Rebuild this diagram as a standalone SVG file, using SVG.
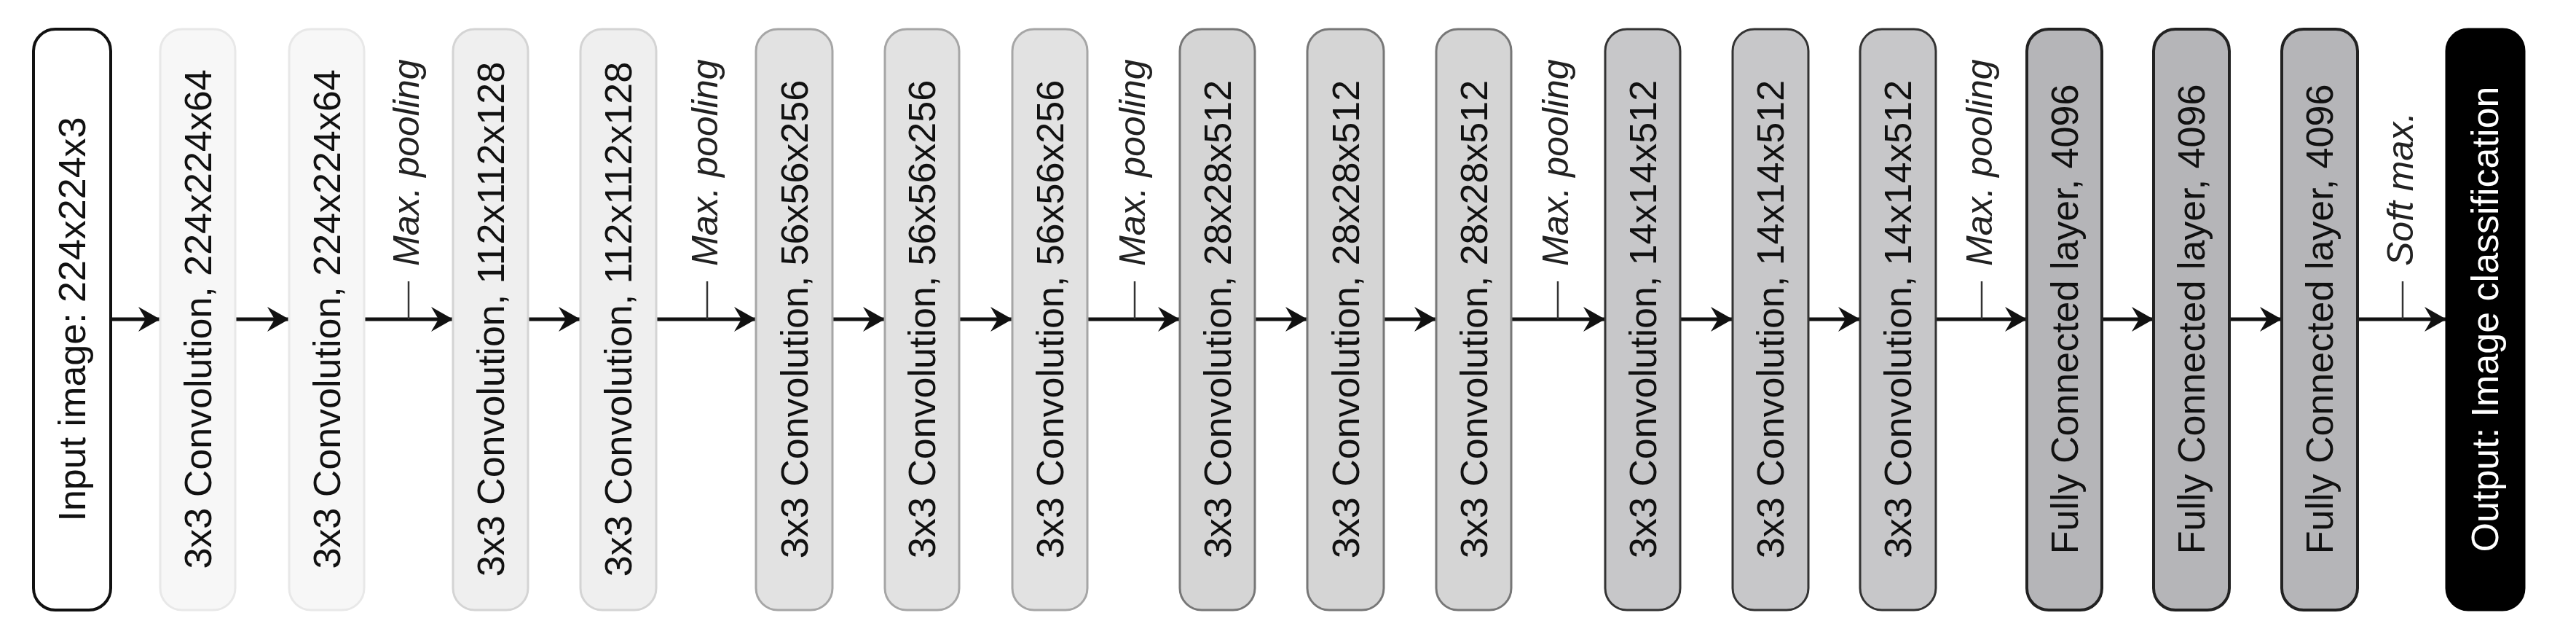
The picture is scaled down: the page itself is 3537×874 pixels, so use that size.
<svg xmlns="http://www.w3.org/2000/svg" width="3537" height="874" viewBox="0 0 3537 874">
<style>
.lbl{font-family:"Liberation Sans",Arial,sans-serif;font-size:52px;fill:#111;text-anchor:middle}
.pool{font-family:"Liberation Sans",Arial,sans-serif;font-size:50px;font-style:italic;fill:#222;text-anchor:start}
.box{stroke-width:3}
.in{fill:#fff;stroke:#111;stroke-width:4}
.g1{fill:#f7f7f7;stroke:#e8e8e8}
.g2{fill:#efefef;stroke:#d4d4d4}
.g3{fill:#e2e2e2;stroke:#a6a6a6}
.g4{fill:#d5d5d5;stroke:#777}
.g5{fill:#c7c7c9;stroke:#333}
.g6{fill:#b5b5b8;stroke:#222;stroke-width:4}
.out{fill:#000;stroke:#000}
.edge{stroke:#111;stroke-width:5;fill:none;marker-end:url(#ah)}
.tick{stroke:#333;stroke-width:2.5}
</style>
<defs>
<marker id="ah" markerUnits="userSpaceOnUse" markerWidth="34" markerHeight="38" refX="31" refY="19" orient="auto">
<path d="M1,2 L31,19 L1,36 L11,19 Z" fill="#111"/>
</marker>
</defs>
<g id="connectors">
<line class="edge" x1="152" y1="438" x2="220" y2="438"/>
<line class="edge" x1="323" y1="438" x2="397" y2="438"/>
<line class="edge" x1="500" y1="438" x2="622" y2="438"/>
<line class="tick" x1="561" y1="386" x2="561" y2="438"/>
<line class="edge" x1="725" y1="438" x2="797" y2="438"/>
<line class="edge" x1="901" y1="438" x2="1038" y2="438"/>
<line class="tick" x1="971" y1="386" x2="971" y2="438"/>
<line class="edge" x1="1143" y1="438" x2="1215" y2="438"/>
<line class="edge" x1="1317" y1="438" x2="1390" y2="438"/>
<line class="edge" x1="1493" y1="438" x2="1620" y2="438"/>
<line class="tick" x1="1558" y1="386" x2="1558" y2="438"/>
<line class="edge" x1="1723" y1="438" x2="1795" y2="438"/>
<line class="edge" x1="1900" y1="438" x2="1972" y2="438"/>
<line class="edge" x1="2075" y1="438" x2="2204" y2="438"/>
<line class="tick" x1="2139" y1="386" x2="2139" y2="438"/>
<line class="edge" x1="2307" y1="438" x2="2379" y2="438"/>
<line class="edge" x1="2483" y1="438" x2="2554" y2="438"/>
<line class="edge" x1="2658" y1="438" x2="2783" y2="438"/>
<line class="tick" x1="2721" y1="386" x2="2721" y2="438"/>
<line class="edge" x1="2886" y1="438" x2="2957" y2="438"/>
<line class="edge" x1="3061" y1="438" x2="3133" y2="438"/>
<line class="edge" x1="3237" y1="438" x2="3359" y2="438"/>
<line class="tick" x1="3299" y1="386" x2="3299" y2="438"/>
<text class="pool" transform="translate(575,365) rotate(-90)">Max. pooling</text>
<text class="pool" transform="translate(985,365) rotate(-90)">Max. pooling</text>
<text class="pool" transform="translate(1572,365) rotate(-90)">Max. pooling</text>
<text class="pool" transform="translate(2153,365) rotate(-90)">Max. pooling</text>
<text class="pool" transform="translate(2735,365) rotate(-90)">Max. pooling</text>
<text class="pool" transform="translate(3313,365) rotate(-90)">Soft max.</text>
</g>
<g id="input"><rect class="box in" x="46" y="40" width="106" height="797" rx="30"/><text class="lbl" transform="translate(117,438) rotate(-90)">Input image: 224x224x3</text></g>
<g id="conv1"><rect class="box g1" x="220" y="40" width="103" height="797" rx="30"/><text class="lbl" transform="translate(290,438) rotate(-90)">3x3 Convolution, 224x224x64</text></g>
<g id="conv2"><rect class="box g1" x="397" y="40" width="103" height="797" rx="30"/><text class="lbl" transform="translate(467,438) rotate(-90)">3x3 Convolution, 224x224x64</text></g>
<g id="conv3"><rect class="box g2" x="622" y="40" width="103" height="797" rx="30"/><text class="lbl" transform="translate(692,438) rotate(-90)">3x3 Convolution, 112x112x128</text></g>
<g id="conv4"><rect class="box g2" x="797" y="40" width="104" height="797" rx="30"/><text class="lbl" transform="translate(867,438) rotate(-90)">3x3 Convolution, 112x112x128</text></g>
<g id="conv5"><rect class="box g3" x="1038" y="40" width="105" height="797" rx="30"/><text class="lbl" transform="translate(1109,438) rotate(-90)">3x3 Convolution, 56x56x256</text></g>
<g id="conv6"><rect class="box g3" x="1215" y="40" width="102" height="797" rx="30"/><text class="lbl" transform="translate(1284,438) rotate(-90)">3x3 Convolution, 56x56x256</text></g>
<g id="conv7"><rect class="box g3" x="1390" y="40" width="103" height="797" rx="30"/><text class="lbl" transform="translate(1460,438) rotate(-90)">3x3 Convolution, 56x56x256</text></g>
<g id="conv8"><rect class="box g4" x="1620" y="40" width="103" height="797" rx="30"/><text class="lbl" transform="translate(1690,438) rotate(-90)">3x3 Convolution, 28x28x512</text></g>
<g id="conv9"><rect class="box g4" x="1795" y="40" width="105" height="797" rx="30"/><text class="lbl" transform="translate(1866,438) rotate(-90)">3x3 Convolution, 28x28x512</text></g>
<g id="conv10"><rect class="box g4" x="1972" y="40" width="103" height="797" rx="30"/><text class="lbl" transform="translate(2042,438) rotate(-90)">3x3 Convolution, 28x28x512</text></g>
<g id="conv11"><rect class="box g5" x="2204" y="40" width="103" height="797" rx="30"/><text class="lbl" transform="translate(2274,438) rotate(-90)">3x3 Convolution, 14x14x512</text></g>
<g id="conv12"><rect class="box g5" x="2379" y="40" width="104" height="797" rx="30"/><text class="lbl" transform="translate(2449,438) rotate(-90)">3x3 Convolution, 14x14x512</text></g>
<g id="conv13"><rect class="box g5" x="2554" y="40" width="104" height="797" rx="30"/><text class="lbl" transform="translate(2624,438) rotate(-90)">3x3 Convolution, 14x14x512</text></g>
<g id="fc1"><rect class="box g6" x="2783" y="40" width="103" height="797" rx="30"/><text class="lbl" transform="translate(2853,438) rotate(-90)">Fully Connected layer, 4096</text></g>
<g id="fc2"><rect class="box g6" x="2957" y="40" width="104" height="797" rx="30"/><text class="lbl" transform="translate(3027,438) rotate(-90)">Fully Connected layer, 4096</text></g>
<g id="fc3"><rect class="box g6" x="3133" y="40" width="104" height="797" rx="30"/><text class="lbl" transform="translate(3203,438) rotate(-90)">Fully Connected layer, 4096</text></g>
<g id="output"><rect class="box out" x="3359" y="40" width="107" height="797" rx="30"/><text class="lbl" style="fill:#fff" transform="translate(3430,438) rotate(-90)">Output: Image classification</text></g>
</svg>
